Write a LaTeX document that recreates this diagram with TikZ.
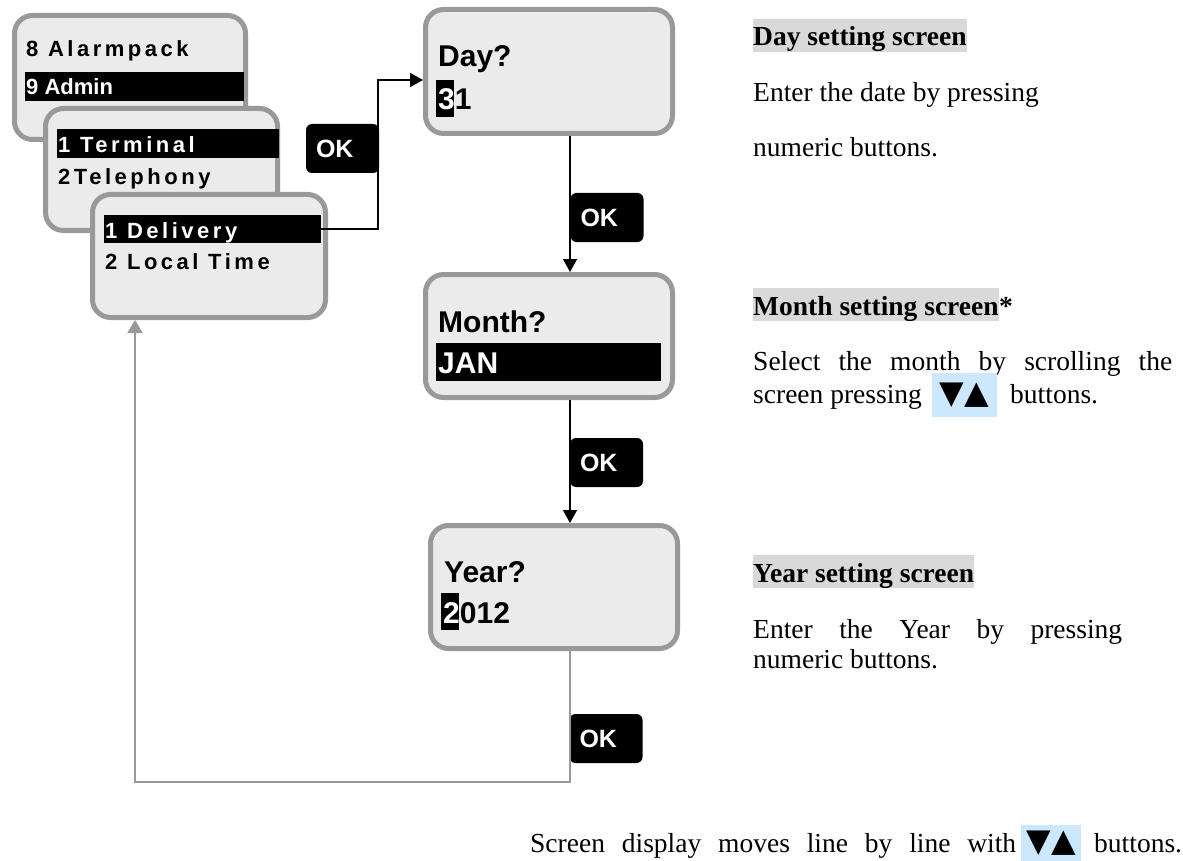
\documentclass[tikz,border=0pt]{standalone}
\usepackage{fontspec}
\setmainfont{Liberation Serif}
\newfontfamily\arial{Liberation Sans}
\newfontfamily\arialsp{Liberation Sans}[LetterSpace=16]
\newfontfamily\dejavu{DejaVu Sans}
\usetikzlibrary{arrows.meta}
\definecolor{scrgray}{HTML}{999999}
\definecolor{scrfill}{HTML}{EBEBEB}
\definecolor{hlgray}{HTML}{D9D9D9}
\definecolor{btnblue}{HTML}{CCE8FF}
\tikzset{
 screen/.style={draw=scrgray, line width=5pt, fill=scrfill, rounded corners=18pt, inner sep=0pt},
 okbtn/.style={fill=black, rounded corners=6pt, text=white, font=\arial\bfseries\fontsize{25}{25}\selectfont,
   minimum width=73pt, minimum height=49pt, inner sep=0pt, text width=53pt, align=left},
 bar/.style={fill=black, inner sep=0pt},
 menu/.style={anchor=base west, inner sep=0pt, font=\arialsp\bfseries\fontsize{22}{22}\selectfont},
 plainmenu/.style={anchor=base west, inner sep=0pt, font=\arial\bfseries\fontsize{22}{22}\selectfont},
 big/.style={anchor=base west, inner sep=0pt, font=\arial\bfseries\fontsize{30}{30}\selectfont},
 body/.style={anchor=base west, inner sep=0pt, font=\fontsize{27.5}{33}\selectfont},
 head/.style={anchor=base west, inner sep=0pt, font=\bfseries\fontsize{27.5}{33}\selectfont,
   fill=hlgray, text height=27pt, text depth=6pt},
 btnbox/.style={fill=btnblue, inner sep=0pt, font=\dejavu\fontsize{32}{32}\selectfont},
 flow/.style={line width=1.5pt, -{Triangle[length=13pt,width=14pt]}},
 back/.style={draw=scrgray, line width=2pt, -{Triangle[length=13pt,width=15pt]}},
}
\begin{document}
\begin{tikzpicture}[x=1pt,y=-1pt]
\useasboundingbox (0,0) rectangle (1183,861);

% menu screens
\node[screen, minimum width=231pt, minimum height=124pt] (s1) at (130,77.5) {};
\node[menu] (t8) at (26,57) {8 Alarmpack};
\node[bar, minimum width=219pt, minimum height=29pt] (adminbar) at (134.5,86.5) {};
\node[plainmenu, text=white] (t9) at (26,95) {9 Admin};

\node[screen, minimum width=232pt, minimum height=122pt] (s2) at (161.5,169.5) {};
\node[bar, minimum width=222pt, minimum height=29pt] (termbar) at (168,143.5) {};
\node[menu, text=white] (tterm) at (58,153) {1 Terminal};
\node[menu] (ttel) at (58,185) {2Telephony};

\node[screen, minimum width=233pt, minimum height=123pt] (s3) at (209,256) {};
\node[bar, minimum width=217pt, minimum height=28pt] (delbar) at (212.5,229) {};
\node[menu, text=white] (tdel) at (105,238) {1 Delivery};
\node[menu] (tloc) at (105,269) {2 Local Time};

% date screens
\node[screen, minimum width=247pt, minimum height=124pt] (day) at (549,71.5) {};
\node[big] (tday) at (438,67) {Day?};
\node[bar, minimum width=18pt, minimum height=37pt] (daycur) at (445,98.5) {};
\node[big] (tdayv) at (438,110) {\textcolor{white}{3}1};

\node[screen, minimum width=247pt, minimum height=123pt] (month) at (549,336) {};
\node[big] (tmon) at (438,332) {Month?};
\node[bar, minimum width=225pt, minimum height=38pt] (janbar) at (548.5,362) {};
\node[big, text=white] (tjan) at (438,373) {JAN};

\node[screen, minimum width=247pt, minimum height=123pt] (year) at (554,587) {};
\node[big] (tyear) at (444,582) {Year?};
\node[bar, minimum width=18pt, minimum height=37pt] (yearcur) at (450,611.5) {};
\node[big] (tyearv) at (443,623) {\textcolor{white}{2}012};

% OK buttons
\node[okbtn] (ok1) at (342.5,148.5) {OK};
\node[okbtn] (ok2) at (607,217.5) {OK};
\node[okbtn] (ok3) at (606.5,462.5) {OK};
\node[okbtn] (ok4) at (606,738.5) {OK};

% connectors
\coordinate (el) at (378,80);
\coordinate (col) at (570,0);
\coordinate (lb) at (135,782);
\draw[flow] (delbar.east) -| (el) -- (el -| day.west);
\draw[flow] (day.south -| col) -- (month.north -| col);
\draw[flow] (month.south -| col) -- (year.north -| col);
\draw[back] (year.south -| col) |- (lb) -- (lb |- s3.south);

% explanations
\node[head] (h1) at (753,46) {Day setting screen};
\node[body] (d1a) at (753,102) {Enter the date by pressing};
\node[body] (d1b) at (753,157) {numeric buttons.};

\node[head] (h2) at (753,315) {Month setting screen};
\node[body, font=\bfseries\fontsize{27.5}{33}\selectfont] (h2s) at (h2.base east) {*};
\node[body] (d2a) at (753,370) {\hbox to 419pt{Select\hfill the\hfill month\hfill by\hfill scrolling\hfill the}};
\node[body] (d2b) at (753,403) {screen pressing};
\node[btnbox, minimum width=65pt, minimum height=44pt] (b2) at (964.5,395) {▼▲};
\node[body] (d2c) at (1010,403) {buttons.};

\node[head] (h3) at (753,582) {Year setting screen};
\node[body] (d3a) at (753,638) {\hbox to 369pt{Enter\hfill the\hfill Year\hfill by\hfill pressing}};
\node[body] (d3b) at (753,668) {numeric buttons.};

\node[body] (f1) at (530,852) {\hbox to 486pt{Screen\hfill display\hfill moves\hfill line\hfill by\hfill line\hfill with}};
\node[btnbox, minimum width=60pt, minimum height=36pt] (b3) at (1051,843) {▼▲};
\node[body] (f2) at (1094,852) {buttons.};
\end{tikzpicture}
\end{document}
